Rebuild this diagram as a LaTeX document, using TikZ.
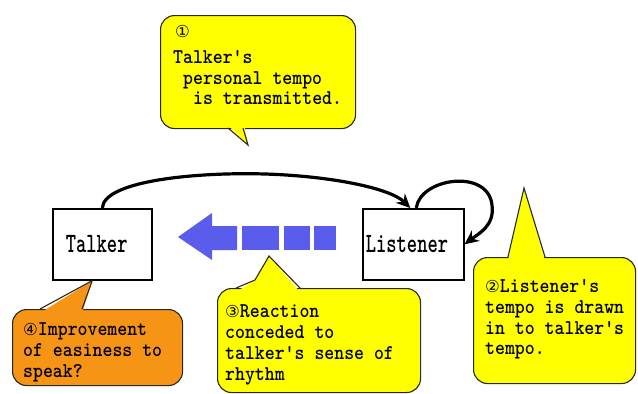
\documentclass[tikz,border=0pt]{standalone}
\usepackage{fontspec}
\usetikzlibrary{arrows.meta}
\newfontfamily\cfont{lmmonolt10-bold.otf}[FakeStretch=0.9]
\newfontfamily\bxfont{lmmonolt10-bold.otf}[FakeStretch=0.7]
\newfontfamily\symfont{DejaVu Sans}
\newcommand\circnum[1]{{\symfont\fontsize{16.5}{16.5}\selectfont #1}}
\definecolor{cyellow}{RGB}{255,255,0}
\definecolor{corange}{RGB}{246,148,22}
\definecolor{cblue}{RGB}{90,92,236}
\definecolor{cedge}{RGB}{40,40,30}
\begin{document}
\begin{tikzpicture}[x=1pt,y=-1pt,
  callbox/.style={draw=cedge, line width=1.1pt, rounded corners=14pt, inner sep=0pt, anchor=north west},
  ctext/.style={anchor=base west, inner sep=0pt, font=\cfont\fontsize{21}{19}\selectfont},
  person/.style={draw=black, line width=1.6pt, fill=white, minimum height=71pt, align=left, inner ysep=0pt, anchor=north west, font=\bxfont\fontsize{28}{28}\selectfont},
  flow/.style={line width=3.2pt, -{Stealth[length=14pt,width=13pt]}},
  tailedge/.style={draw=cedge, line width=1.1pt, line join=miter}
]
\useasboundingbox[fill=white] (0,0) rectangle (638,394);

% people
\node[person, text width=73pt, inner xsep=13pt] (talker) at (52,208) {Talker};
\node[person, text width=95pt, inner xsep=3pt] (listener) at (362,208) {Listener};

% connectors
\draw[flow] (talker.north) .. controls (104,180) and (200,172) .. (265,174)
  .. controls (330,176) and (390,188) .. ([xshift=-3pt]listener.north);
\draw[flow] ([xshift=3pt]listener.north) .. controls (420,178) and (488,168) .. (492,205)
  .. controls (495,226) and (478,234) .. (listener.east);

% blue dashed arrow
\fill[cblue] (178,237) -- (212,213) -- (212,226) -- (237,226) -- (237,250) -- (212,250) -- (212,260) -- cycle;
\fill[cblue] (242,226) rectangle (279,250);
\fill[cblue] (284,226) rectangle (310,250);
\fill[cblue] (314,226) rectangle (336,250);

% tip coordinates
\coordinate (c1tip) at (248,145);
\coordinate (c2tip) at (524,188);
\coordinate (c3tip) at (269,256);
\coordinate (c4tip) at ([xshift=-10pt]talker.south);

% callout 1
\node[callbox, fill=cyellow, minimum width=195pt, minimum height=113pt] (c1) at (160,15) {};
\fill[cyellow] (227,124) -- (c1tip) -- (244,124) -- cycle;
\draw[tailedge] (228,128) -- (c1tip) -- (243,128);
\node[ctext] (c1a) at (175,37) {\circnum{①}};
\node[ctext] (c1b) at (173,63) {Talker's};
\node[ctext] (c1c) at (183,84) {personal tempo};
\node[ctext] (c1d) at (193,104) {is transmitted.};

% callout 2
\node[callbox, fill=cyellow, minimum width=162pt, minimum height=126pt] (c2) at (473,257) {};
\fill[cyellow] (508,261) -- (c2tip) -- (545,261) -- cycle;
\draw[tailedge] (508,257) -- (c2tip) -- (545,257);
\node[ctext] (c2a) at (485,292) {\circnum{②}Listener's};
\node[ctext] (c2b) at (485,313) {tempo is drawn};
\node[ctext] (c2c) at (485,334) {in to talker's};
\node[ctext] (c2d) at (485,354) {tempo.};

% callout 3
\node[callbox, fill=cyellow, minimum width=203pt, minimum height=104pt] (c3) at (217,288) {};
\fill[cyellow] (236,292) -- (255,280) -- (c3tip) -- (300,292) -- cycle;
\draw[tailedge] (236,288) -- (255,280) -- (c3tip) -- (300,288);
\node[ctext] (c3a) at (225,317) {\circnum{③}Reaction};
\node[ctext] (c3b) at (225,338) {conceded to};
\node[ctext] (c3c) at (225,359) {talker's sense of};
\node[ctext] (c3d) at (225,380) {rhythm};

% callout 4
\node[callbox, fill=corange, minimum width=170pt, minimum height=76pt] (c4) at (12,309) {};
\fill[corange] (40,313) -- (c4tip) -- (82,313) -- cycle;
\draw[tailedge] (40,309) -- (c4tip) -- (82,309);
\node[ctext] (c4a) at (23,335) {\circnum{④}Improvement};
\node[ctext] (c4b) at (23,356) {of easiness to};
\node[ctext] (c4c) at (23,377) {speak?};
\end{tikzpicture}
\end{document}
